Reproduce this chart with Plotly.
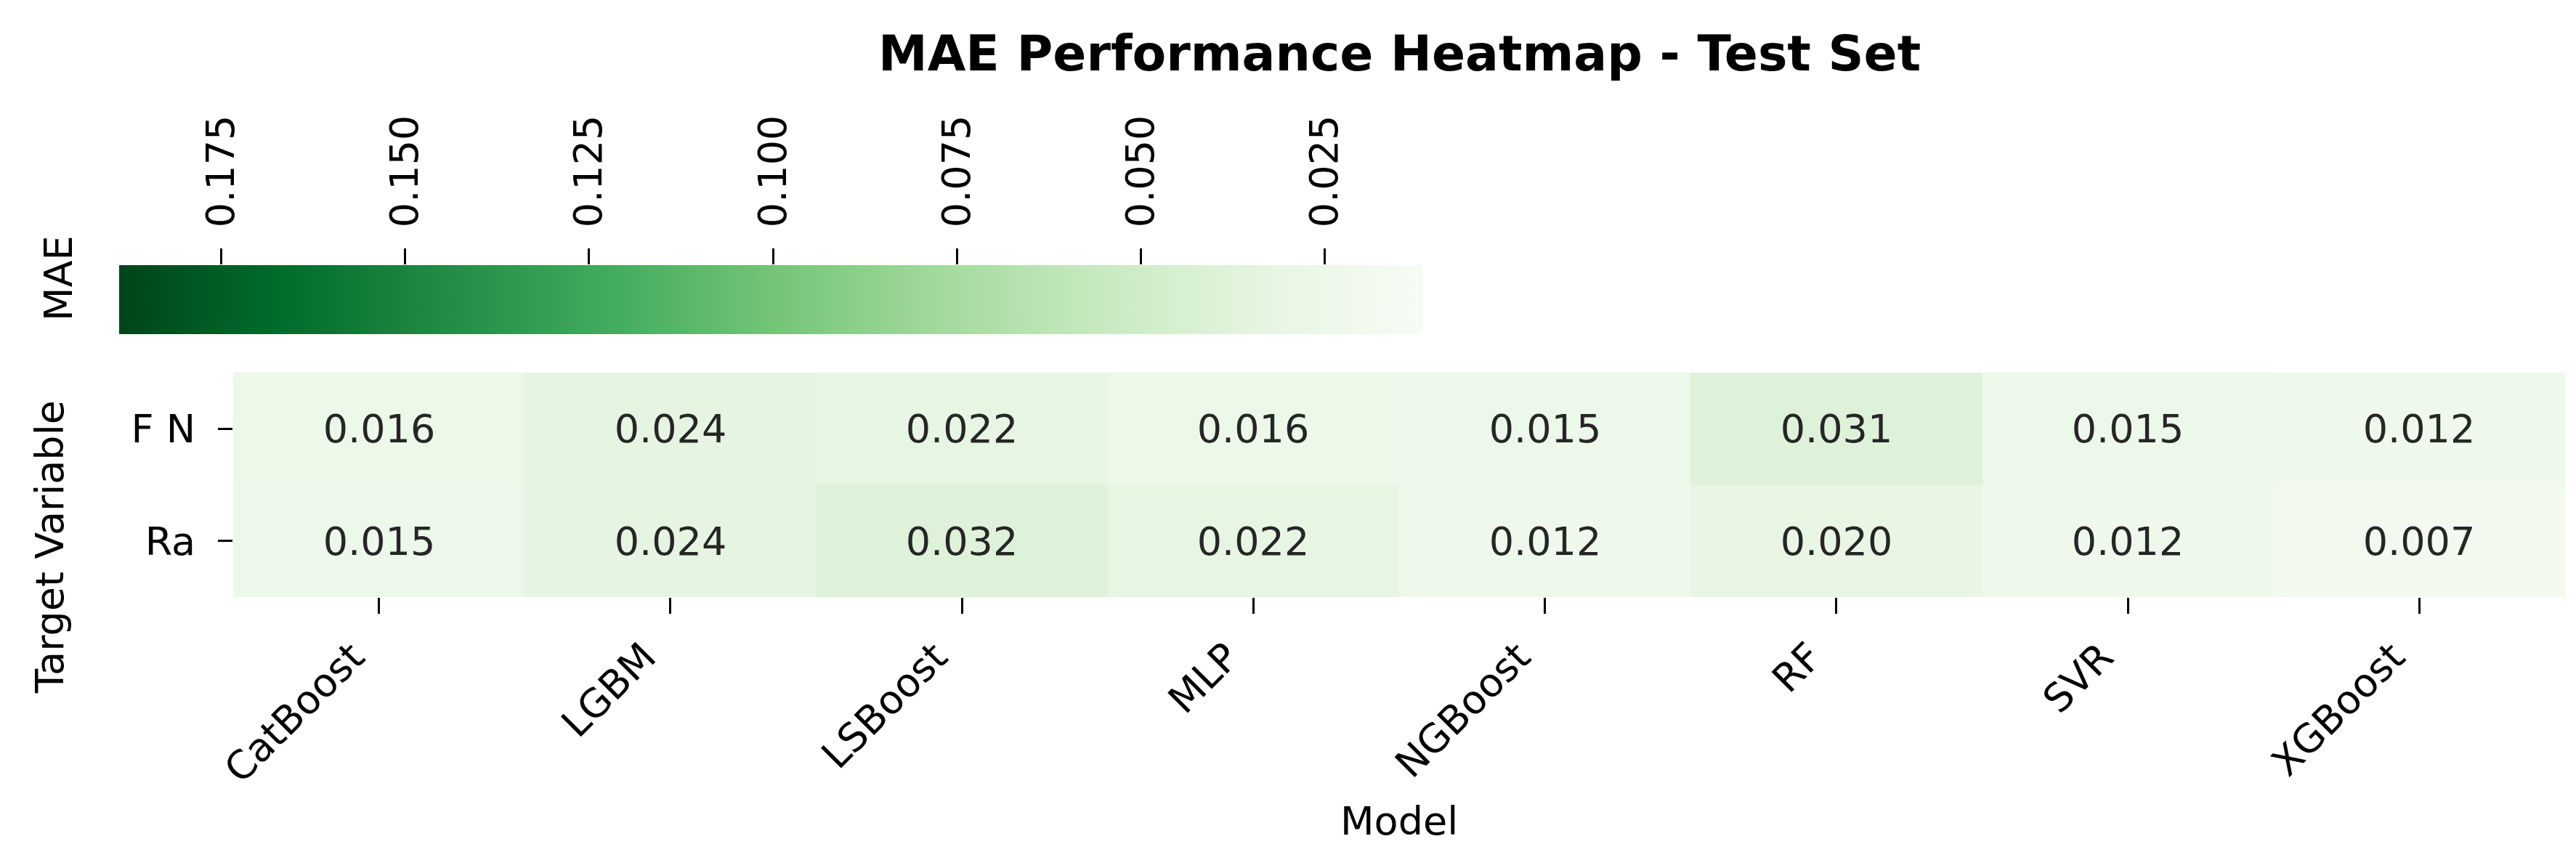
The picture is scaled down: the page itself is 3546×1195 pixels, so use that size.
import plotly.graph_objects as go

models = ["CatBoost", "LGBM", "LSBoost", "MLP", "NGBoost", "RF", "SVR", "XGBoost"]
targets = ["F N", "Ra"]
mae_fn = [0.016, 0.024, 0.022, 0.016, 0.015, 0.031, 0.015, 0.012]
mae_ra = [0.015, 0.024, 0.032, 0.022, 0.012, 0.020, 0.012, 0.007]
cbar_ticks = [0.175, 0.150, 0.125, 0.100, 0.075, 0.050, 0.025]
cbar_min, cbar_max = 0.0116, 0.1889      # range shown on the colour bar axis
heat_min, heat_max = 0.0, 0.203          # colour range matching the cell shades

W, H = 3546, 1195
FONT = "DejaVu Sans"

def px_x(p):
    return p / W

def px_y(p):
    return 1 - p / H

values = [mae_fn, mae_ra]
# negate so the colour bar gradient runs dark (high) -> light (low) from left to right
z_neg = [[-v for v in row] for row in values]
text = [[f"{v:.3f}" for v in row] for row in values]

CB_L, CB_R, CB_T, CB_B = 156, 1951, 357, 452

fig = go.Figure()
fig.add_trace(go.Heatmap(
    z=z_neg, x=models, y=targets,
    text=text, texttemplate="%{text}",
    textfont=dict(family=FONT, size=54, color="#262626"),
    colorscale="Greens_r", zmin=-heat_max, zmax=-heat_min,
    hovertemplate="%{y} / %{x}: %{text}<extra></extra>",
    colorbar=dict(
        orientation="h",
        x=px_x(CB_L), xanchor="left",
        y=px_y(CB_B), yanchor="bottom",
        len=CB_R - CB_L, lenmode="pixels",
        thickness=CB_B - CB_T, thicknessmode="pixels",
        xpad=0, ypad=0, outlinewidth=0,
        ticks="", showticklabels=False,
    ),
))

# tick axis for the colour bar (labels above the bar, high values on the left)
fig.add_trace(go.Scatter(
    x=cbar_ticks, y=[0] * len(cbar_ticks), xaxis="x2", yaxis="y2",
    mode="markers", marker=dict(opacity=0), hoverinfo="skip", showlegend=False,
))

fig.update_layout(
    width=W, height=H,
    margin=dict(l=0, r=0, t=0, b=0, autoexpand=False),
    paper_bgcolor="white", plot_bgcolor="rgba(0,0,0,0)",
    template="none",
    showlegend=False,
    xaxis=dict(
        domain=[px_x(313), px_x(3523)],
        showgrid=False, zeroline=False, showline=False,
        ticks="outside", ticklen=22, tickwidth=3, tickcolor="black",
        tickangle=-45, ticklabelshift=-36, ticklabelstandoff=6,
        tickfont=dict(family=FONT, size=54, color="black"),
        automargin=False,
    ),
    yaxis=dict(
        domain=[px_y(814), px_y(505)],
        autorange="reversed",
        showgrid=False, zeroline=False, showline=False,
        ticks="outside", ticklen=20, tickwidth=3, tickcolor="black",
        ticklabelstandoff=20,
        tickfont=dict(family=FONT, size=54, color="black"),
        automargin=False,
    ),
    xaxis2=dict(
        domain=[px_x(CB_L), px_x(CB_R)],
        range=[cbar_max, cbar_min],
        anchor="y2", side="top",
        showgrid=False, zeroline=False, showline=False,
        tickvals=cbar_ticks, ticktext=[f"{t:.3f}" for t in cbar_ticks],
        ticks="outside", ticklen=22, tickwidth=3, tickcolor="black",
        tickangle=-90, ticklabelstandoff=18,
        tickfont=dict(family=FONT, size=54, color="black"),
        automargin=False, fixedrange=True,
    ),
    yaxis2=dict(
        domain=[px_y(CB_B), px_y(CB_T)],
        range=[-1, 1], visible=False, fixedrange=True,
        anchor="x2",
    ),
    annotations=[
        dict(text="<b>MAE Performance Heatmap - Test Set</b>", x=px_x(1918), y=px_y(66),
             xref="paper", yref="paper", showarrow=False, xanchor="center", yanchor="middle",
             font=dict(family=FONT, size=68, color="black")),
        dict(text="Model", x=px_x(1918), y=px_y(1122),
             xref="paper", yref="paper", showarrow=False, xanchor="center", yanchor="middle",
             font=dict(family=FONT, size=54, color="black")),
        dict(text="Target Variable", x=px_x(60), y=px_y(745), textangle=-90,
             xref="paper", yref="paper", showarrow=False, xanchor="center", yanchor="middle",
             font=dict(family=FONT, size=54, color="black")),
        dict(text="MAE", x=px_x(72), y=px_y(375), textangle=-90,
             xref="paper", yref="paper", showarrow=False, xanchor="center", yanchor="middle",
             font=dict(family=FONT, size=54, color="black")),
    ],
)

fig.write_html("out.html")
